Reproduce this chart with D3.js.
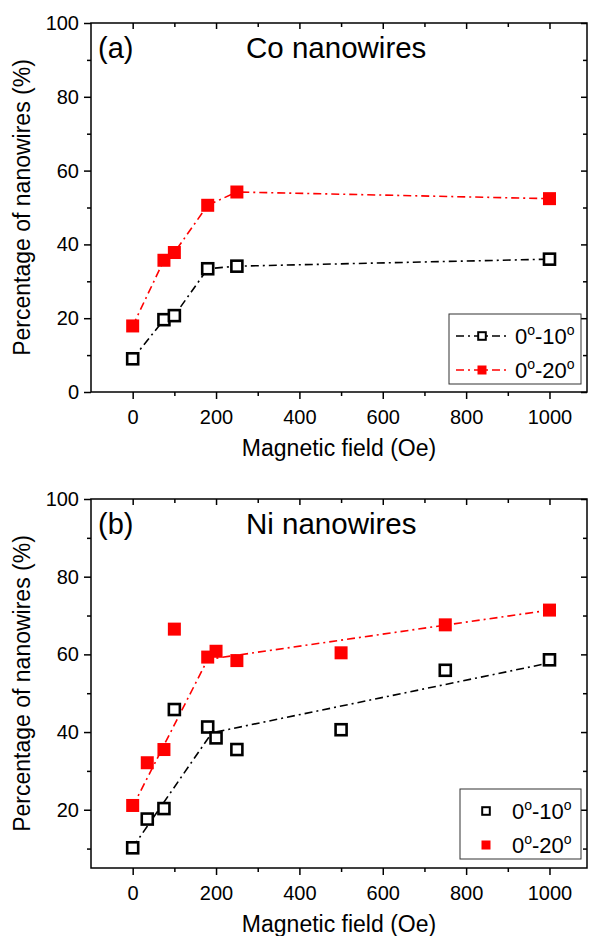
<!DOCTYPE html>
<html>
<head>
<meta charset="utf-8">
<script src="https://cdn.jsdelivr.net/npm/d3@7"></script>
<style>
  body { margin: 0; background: #fff; overflow: hidden; }
</style>
</head>
<body>
<div id="chart"></div>
<script>
// Co nanowires (panel a)
const fieldsCo = [0, 75, 100, 180, 250, 1000];
const co10 = [9.0, 19.6, 20.7, 33.4, 34.1, 36.0];
const co20 = [17.9, 35.7, 37.8, 50.6, 54.2, 52.4];

// Ni nanowires (panel b)
const fieldsNi = [0, 35, 75, 100, 180, 200, 250, 500, 750, 1000];
const ni10 = [10.2, 17.6, 20.3, 45.8, 41.3, 38.5, 35.5, 40.6, 55.9, 58.6];
const ni20 = [21.1, 32.1, 35.5, 66.5, 59.3, 60.8, 58.4, 60.4, 67.6, 71.4];

// guide lines drawn through the Ni data
const niFitX10 = [0, 190, 1000];
const niFitY10 = [10.3, 39.8, 57.8];
const niFitX20 = [0, 180, 1000];
const niFitY20 = [20.8, 58.7, 71.4];

const xMajor = [0, 200, 400, 600, 800, 1000];
const xMinor = [100, 300, 500, 700, 900];
const yMinor = [10, 30, 50, 70, 90];

const width = 589;
const height = 936;
const left = 91, right = 587;
const font = "'Liberation Sans', Arial, sans-serif";
const dash = "8,4,2,4";

const svg = d3.select("#chart")
  .append("svg")
  .attr("width", width)
  .attr("height", height)
  .style("display", "block")
  .style("font-family", font);

function degLabel(text, a, b) {
  text.append("tspan").text(a);
  text.append("tspan").text("o").attr("font-size", 14).attr("dy", -9);
  text.append("tspan").text("-" + b).attr("font-size", 22).attr("dy", 9);
  text.append("tspan").text("o").attr("font-size", 14).attr("dy", -9);
}

function panel(cfg) {
  const x = d3.scaleLinear().domain([-100, 1090]).range([left, right]);
  const y = d3.scaleLinear().domain(cfg.yDomain).range([cfg.bottom, cfg.top]);
  const g = svg.append("g");

  const styleAxis = sel => {
    sel.select(".domain").remove();
    sel.selectAll("line").attr("stroke", "#000").attr("stroke-width", 1.5);
    sel.selectAll("text").attr("font-size", 20).attr("font-family", font).attr("fill", "#000");
  };

  // bottom / left (outward ticks with labels)
  g.append("g").attr("transform", `translate(0,${cfg.bottom})`)
    .call(d3.axisBottom(x).tickValues(xMajor).tickSize(7).tickPadding(6).tickFormat(d3.format("d")))
    .call(styleAxis)
    .selectAll("text").attr("dy", "0.95em");
  g.append("g").attr("transform", `translate(0,${cfg.bottom})`)
    .call(d3.axisBottom(x).tickValues(xMinor).tickSize(4).tickFormat(""))
    .call(styleAxis);
  g.append("g").attr("transform", `translate(${left},0)`)
    .call(d3.axisLeft(y).tickValues(cfg.yMajor).tickSize(7).tickPadding(5))
    .call(styleAxis);
  g.append("g").attr("transform", `translate(${left},0)`)
    .call(d3.axisLeft(y).tickValues(yMinor).tickSize(4).tickFormat(""))
    .call(styleAxis);

  // top / right (inward ticks)
  g.append("g").attr("transform", `translate(0,${cfg.top})`)
    .call(d3.axisTop(x).tickValues(xMajor).tickSize(-6).tickFormat(""))
    .call(styleAxis);
  g.append("g").attr("transform", `translate(0,${cfg.top})`)
    .call(d3.axisTop(x).tickValues(xMinor).tickSize(-4).tickFormat(""))
    .call(styleAxis);
  g.append("g").attr("transform", `translate(${right},0)`)
    .call(d3.axisRight(y).tickValues(cfg.yMajor).tickSize(-6).tickFormat(""))
    .call(styleAxis);
  g.append("g").attr("transform", `translate(${right},0)`)
    .call(d3.axisRight(y).tickValues(yMinor).tickSize(-4).tickFormat(""))
    .call(styleAxis);

  // frame
  g.append("rect")
    .attr("x", left).attr("y", cfg.top)
    .attr("width", right - left).attr("height", cfg.bottom - cfg.top)
    .attr("fill", "none").attr("stroke", "#000").attr("stroke-width", 1.5);

  // axis titles
  g.append("text")
    .attr("x", (left + right) / 2).attr("y", cfg.bottom + 64)
    .attr("text-anchor", "middle").attr("font-size", 23)
    .text("Magnetic field (Oe)");
  g.append("text")
    .attr("transform", `translate(30,${(cfg.top + cfg.bottom) / 2}) rotate(-90)`)
    .attr("text-anchor", "middle").attr("font-size", 23)
    .text("Percentage of nanowires (%)");

  // panel labels
  g.append("text").attr("x", left + 7).attr("y", cfg.top + 35)
    .attr("font-size", 29).text(cfg.tag);
  g.append("text").attr("x", 246).attr("y", cfg.top + 35)
    .attr("font-size", 29.5).text(cfg.title);

  const line = d3.line().x(d => x(d[0])).y(d => y(d[1]));

  cfg.lines.forEach(l => {
    g.append("path")
      .datum(d3.zip(l.xs, l.ys))
      .attr("d", line)
      .attr("fill", "none")
      .attr("stroke", l.color)
      .attr("stroke-width", 1.6)
      .attr("stroke-dasharray", dash);
  });

  // open squares, 0-10
  g.append("g").selectAll("rect")
    .data(d3.zip(cfg.xs, cfg.s10))
    .enter().append("rect")
    .attr("x", d => x(d[0]) - 5.5).attr("y", d => y(d[1]) - 5.5)
    .attr("width", 11).attr("height", 11)
    .attr("fill", "#fff").attr("stroke", "#000").attr("stroke-width", 2.6);

  // filled squares, 0-20
  g.append("g").selectAll("rect")
    .data(d3.zip(cfg.xs, cfg.s20))
    .enter().append("rect")
    .attr("x", d => x(d[0]) - 6.5).attr("y", d => y(d[1]) - 6.5)
    .attr("width", 13).attr("height", 13)
    .attr("fill", "#ff0000");

  // legend
  const lg = cfg.legend;
  g.append("rect")
    .attr("x", lg.x).attr("y", lg.y)
    .attr("width", right - 6 - lg.x).attr("height", 70)
    .attr("fill", "#fff").attr("stroke", "#333").attr("stroke-width", 1);

  const rows = [
    { color: "#000", open: true, a: "0", b: "10" },
    { color: "#ff0000", open: false, a: "0", b: "20" }
  ];
  rows.forEach((r, i) => {
    const cy = lg.y + 22 + i * 34;
    if (lg.withLine) {
      g.append("line")
        .attr("x1", lg.x + 7).attr("x2", lg.x + 58)
        .attr("y1", cy).attr("y2", cy)
        .attr("stroke", r.color).attr("stroke-width", 1.5)
        .attr("stroke-dasharray", dash);
    }
    const mx = lg.x + lg.mark;
    if (r.open) {
      g.append("rect").attr("x", mx - 3.8).attr("y", cy - 3.8)
        .attr("width", 7.6).attr("height", 7.6)
        .attr("fill", "#fff").attr("stroke", "#000").attr("stroke-width", 2);
    } else {
      g.append("rect").attr("x", mx - 4.5).attr("y", cy - 4.5)
        .attr("width", 9).attr("height", 9).attr("fill", "#ff0000");
    }
    const t = g.append("text")
      .attr("x", lg.textX).attr("y", cy + 8)
      .attr("font-size", 22);
    degLabel(t, r.a, r.b);
  });
}

panel({
  top: 23, bottom: 392,
  yDomain: [0, 100],
  yMajor: [0, 20, 40, 60, 80, 100],
  tag: "(a)", title: "Co nanowires",
  xs: fieldsCo, s10: co10, s20: co20,
  lines: [
    { xs: fieldsCo, ys: co10, color: "#000" },
    { xs: fieldsCo, ys: co20, color: "#ff0000" }
  ],
  legend: { x: 449, y: 314, withLine: true, mark: 33, textX: 515 }
});

panel({
  top: 499, bottom: 868,
  yDomain: [5, 100],
  yMajor: [20, 40, 60, 80, 100],
  tag: "(b)", title: "Ni nanowires",
  xs: fieldsNi, s10: ni10, s20: ni20,
  lines: [
    { xs: niFitX10, ys: niFitY10, color: "#000" },
    { xs: niFitX20, ys: niFitY20, color: "#ff0000" }
  ],
  legend: { x: 460, y: 789, withLine: false, mark: 26, textX: 512 }
});
</script>
</body>
</html>
